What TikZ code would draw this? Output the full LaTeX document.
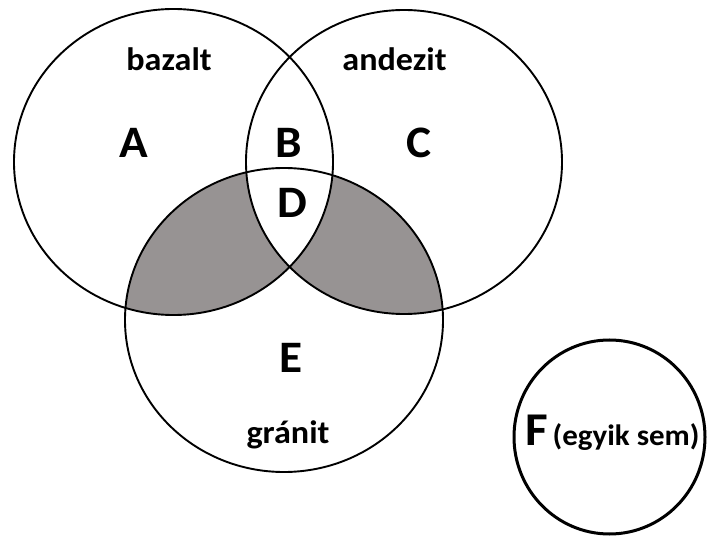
\documentclass[tikz,border=0pt]{standalone}
\usepackage{fontspec}
\setmainfont{Carlito}
\definecolor{regiongray}{RGB}{151,147,147}
\newcommand{\wide}[1]{\scalebox{1.05}[1]{#1}}
\begin{document}
\begin{tikzpicture}[x=1pt,y=-1pt,
  ring/.style={draw=black,line width=1.9pt},
  bigletter/.style={font=\bfseries\fontsize{45}{45}\selectfont,anchor=base,inner sep=0pt},
  setname/.style={font=\bfseries\fontsize{32.5}{32.5}\selectfont,anchor=base,inner sep=0pt}]
\useasboundingbox (0,0) rectangle (707,537);
\fill[white] (0,0) rectangle (707,537);
% grey regions: inside granit, in exactly one of bazalt / andezit
\begin{scope}
  \clip (284,320) ellipse [x radius=159, y radius=152];
  \fill[regiongray,even odd rule] (173.5,162) ellipse [x radius=159.5, y radius=153]
                                  (404,162) ellipse [x radius=158, y radius=152];
\end{scope}
\draw[ring] (173.5,162) ellipse [x radius=159.5, y radius=153];
\draw[ring] (404,162) ellipse [x radius=158, y radius=152];
\draw[ring] (284,320) ellipse [x radius=159, y radius=152];
\draw[draw=black,line width=3pt] (609.5,437) ellipse [x radius=95.5, y radius=97];
\node[setname] (bazalt) at (169,71) {\wide{bazalt}};
\node[setname] (andezit) at (394.5,71) {\wide{andezit}};
\node[setname] (granit) at (288,443) {\wide{gránit}};
\node[bigletter] (A) at (134,158) {\wide{A}};
\node[bigletter] (B) at (288.5,158) {\wide{B}};
\node[bigletter] (C) at (419,158) {\wide{C}};
\node[bigletter] (D) at (292,218) {\wide{D}};
\node[bigletter] (E) at (291,373) {\wide{E}};
\node[bigletter,font=\bfseries\fontsize{47}{47}\selectfont,anchor=base west] (F) at (525,445) {\wide{F}};
\node[font=\bfseries\fontsize{29.5}{29.5}\selectfont,anchor=base west,inner sep=0pt] (none) at (552.5,445) {\wide{(egyik sem)}};
\end{tikzpicture}
\end{document}
